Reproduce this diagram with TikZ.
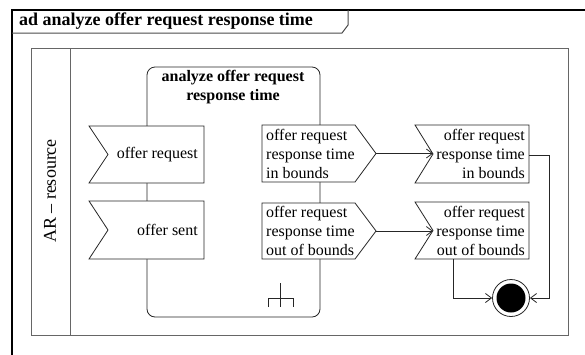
\documentclass[tikz,border=0pt]{standalone}
\usepackage{fontspec}
\setmainfont{Liberation Serif}
\usetikzlibrary{arrows.meta}
\begin{document}
\begin{tikzpicture}[x=1pt,y=-1pt,
  shp/.style={draw=black!85,line width=0.8pt,fill=white},
  lane/.style={draw=black!60,line width=1pt},
  txt/.style={font=\fontsize{16}{19}\selectfont,inner sep=0pt},
  conn/.style={draw=black!85,line width=0.8pt,-{Straight Barb[length=6pt,width=9pt]}},
]
\useasboundingbox (0,0) rectangle (585,354);
\fill[white] (0,0) rectangle (585,354);
% outer frame
\draw[line width=1.3pt] (12,360) -- (12,10) -- (590,10);
\draw[line width=1pt,black!70] (12,33) -- (342,33) -- (348,25) -- (348,10);
\node[anchor=west,inner sep=0pt,font=\fontsize{18}{20}\selectfont\bfseries] (title) at (19,21.5) {ad analyze offer request response time};
% swimlane
\draw[lane] (31,48) rectangle (568,335);
\draw[lane] (70,48) -- (70,335);
\node[rotate=90,inner sep=0pt,font=\fontsize{18}{20}\selectfont] (lanelbl) at (50,191) {AR -- resource};
% activity
\draw[shp,rounded corners=8pt] (147,67) rectangle (320,317);
\node[align=center,inner sep=0pt,font=\fontsize{16}{19}\selectfont\bfseries] (acttitle) at (233,87) {analyze offer request\\response time};
% fork icon
\draw[black!85,line width=0.8pt] (280,283) -- (280,307) (268,307) -- (268,298) -- (293,298) -- (293,307);
% accept: offer request
\draw[shp] (89,126) -- (204,126) -- (204,183) -- (89,183) -- (108,154.5) -- cycle;
\node[txt,anchor=east] (offreq) at (198,155) {offer request};
\draw[shp] (89,201) -- (204,201) -- (204,259) -- (89,259) -- (108,230) -- cycle;
\node[txt,anchor=east] (offsent) at (198,230) {offer sent};
% send signals
\draw[shp] (262,125) -- (355,125) -- (376,153.5) -- (355,182) -- (262,182) -- cycle;
\node[txt,anchor=west,align=left] (sendin) at (266,153.5) {offer request\\response time\\in bounds};
\draw[shp] (262,203) -- (355,203) -- (376,231) -- (355,259) -- (262,259) -- cycle;
\node[txt,anchor=west,align=left] (sendout) at (266,231) {offer request\\response time\\out of bounds};
% accept right
\draw[shp] (415,125) -- (529,125) -- (529,183) -- (415,183) -- (433,154) -- cycle;
\node[txt,anchor=east,align=right] (accin) at (525,154) {offer request\\response time\\in bounds};
\draw[shp] (415,202) -- (529,202) -- (529,259) -- (415,259) -- (433,230.5) -- cycle;
\node[txt,anchor=east,align=right] (accout) at (525,230.5) {offer request\\response time\\out of bounds};
% coordinates
\coordinate (sinpt) at (376,153.5);
\coordinate (soutpt) at (376,231);
\coordinate (ainpt) at (433,153.5);
\coordinate (aoutpt) at (433,231);
\coordinate (ainR) at (529,155);
\coordinate (aoutB) at (453,259);
% final node
\node[circle,draw=black!85,line width=0.8pt,fill=white,minimum size=37pt,inner sep=0pt] (final) at (511,298) {};
\fill[black] (final) circle (14.5pt);
% connectors
\draw[conn] (sinpt) -- (ainpt);
\draw[conn] (soutpt) -- (aoutpt);
\draw[conn] (ainR) -- (549,155) |- (final.east);
\draw[conn] (aoutB) |- (final.west);
\end{tikzpicture}
\end{document}
